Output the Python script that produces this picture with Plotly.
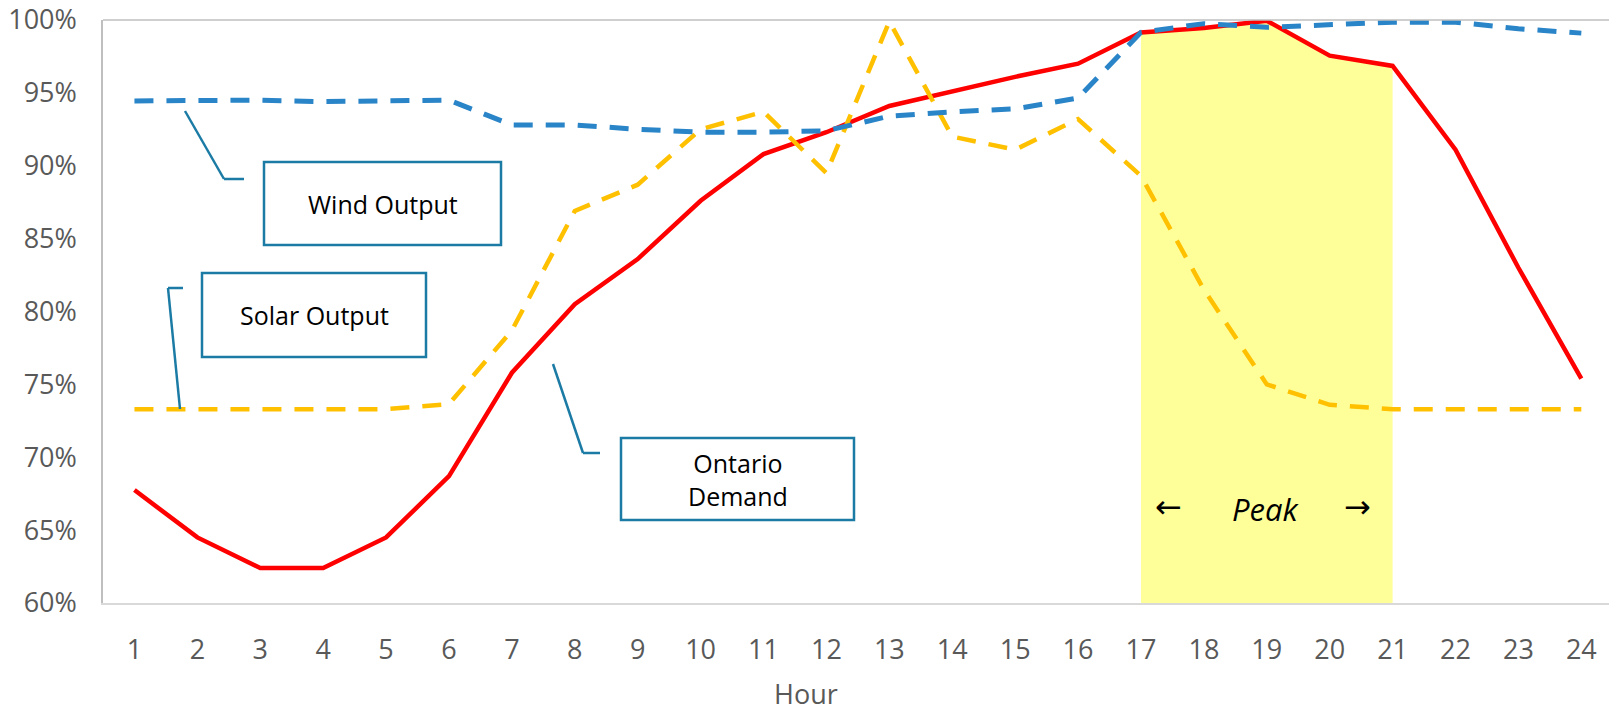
import plotly.graph_objects as go

hours = list(range(1, 25))
demand = [67.75, 64.5, 62.4, 62.4, 64.5, 68.7, 75.8, 80.5, 83.6, 87.6, 90.8, 92.3,
          94.1, 95.1, 96.1, 97.0, 99.15, 99.45, 99.95, 97.55, 96.85, 91.1, 83.0, 75.4]
wind = [94.45, 94.5, 94.5, 94.4, 94.45, 94.5, 92.8, 92.8, 92.5, 92.3, 92.3, 92.4,
        93.4, 93.7, 93.9, 94.65, 99.15, 99.75, 99.5, 99.7, 99.85, 99.85, 99.4, 99.1]
solar = [73.3, 73.3, 73.3, 73.3, 73.3, 73.65, 78.7, 86.9, 88.7, 92.5, 93.7, 89.5,
         99.9, 92.0, 91.1, 93.2, 89.3, 81.5, 75.0, 73.6, 73.3, 73.3, 73.3, 73.3]
peak_hours = [17, 18, 19, 20, 21]
peak_demand = [demand[h - 1] for h in peak_hours]

W, H = 1609, 714
L, R, T, B = 103, 0, 20, 111
PW, PH = W - L - R, H - T - B


def px(x):
    return (x - L) / PW


def py(y):
    return 1 - (y - T) / PH


BOX = "#1B7BA5"
FONT = "Open Sans"

fig = go.Figure()
fig.add_trace(go.Scatter(x=peak_hours, y=peak_demand, fill="tozeroy", fillcolor="#FFFF99",
                         line=dict(width=0), mode="lines", hoverinfo="skip", showlegend=False))
fig.add_trace(go.Scatter(x=hours, y=demand, mode="lines", name="Ontario Demand",
                         line=dict(color="#FF0000", width=4.5)))
fig.add_trace(go.Scatter(x=hours, y=solar, mode="lines", name="Solar Output",
                         line=dict(color="#FFC000", width=4.5, dash="19px,13px")))
fig.add_trace(go.Scatter(x=hours, y=wind, mode="lines", name="Wind Output",
                         line=dict(color="#2984C8", width=5, dash="19px,13px")))

shapes = []
# top border line
shapes.append(dict(type="line", xref="paper", yref="paper", x0=0, x1=1, y0=1, y1=1,
                   line=dict(color="#BFBFBF", width=1.5)))

boxes = [
    (264, 162, 501, 245, "Wind Output"),
    (202, 273, 426, 357, "Solar Output"),
    (621, 438, 854, 520, "Ontario<br>Demand"),
]
annotations = []
for x0, y0, x1, y1, txt in boxes:
    shapes.append(dict(type="rect", xref="paper", yref="paper", x0=px(x0), x1=px(x1),
                       y0=py(y1), y1=py(y0), line=dict(color=BOX, width=2.5),
                       fillcolor="rgba(255,255,255,0)"))
    annotations.append(dict(xref="paper", yref="paper", x=px((x0 + x1) / 2), y=py((y0 + y1) / 2),
                            text=txt, showarrow=False, xanchor="center", yanchor="middle",
                            font=dict(family=FONT, size=25, color="#000000")))

callouts = [
    [(185, 111), (224, 179), (244, 179)],
    [(180, 409), (168, 288), (183, 288)],
    [(553, 364), (583, 453), (600, 453)],
]
for pts in callouts:
    for (xa, ya), (xb, yb) in zip(pts[:-1], pts[1:]):
        shapes.append(dict(type="line", xref="paper", yref="paper", x0=px(xa), y0=py(ya),
                           x1=px(xb), y1=py(yb), line=dict(color=BOX, width=2.5)))

annotations.append(dict(xref="paper", yref="paper", x=px(1266), y=py(509), text="<i>Peak</i>",
                        showarrow=False, xanchor="center", yanchor="middle",
                        font=dict(family=FONT, size=31, color="#000000")))
annotations.append(dict(xref="paper", yref="paper", x=px(1168), y=py(507), text="←",
                        showarrow=False, xanchor="center", yanchor="middle",
                        font=dict(family="DejaVu Sans", size=32, color="#000000")))
annotations.append(dict(xref="paper", yref="paper", x=px(1357), y=py(507), text="→",
                        showarrow=False, xanchor="center", yanchor="middle",
                        font=dict(family="DejaVu Sans", size=32, color="#000000")))
annotations.append(dict(xref="paper", yref="paper", x=px(806), y=py(714), text="Hour",
                        showarrow=False, xanchor="center", yanchor="bottom",
                        font=dict(family=FONT, size=27, color="#595959")))

fig.update_layout(
    width=W, height=H,
    margin=dict(l=L, r=R, t=T, b=B, pad=0),
    paper_bgcolor="white", plot_bgcolor="white",
    showlegend=False,
    shapes=shapes,
    annotations=annotations,
    font=dict(family=FONT, color="#595959"),
)
fig.update_xaxes(range=[0.5, 24.44], tickmode="array", tickvals=hours, ticktext=[str(h) for h in hours],
                 showgrid=False, zeroline=False, showline=True, linecolor="#D9D9D9", linewidth=2,
                 ticks="", ticklabelstandoff=22, automargin=False,
                 tickfont=dict(size=27, color="#595959"))
fig.update_yaxes(range=[60, 100], dtick=5, ticksuffix="%", showgrid=False, zeroline=False,
                 showline=True, linecolor="#BFBFBF", linewidth=1.5, ticks="", automargin=False,
                 ticklabelstandoff=19, tickfont=dict(size=27, color="#595959"))

fig.write_html("out.html", config={"displayModeBar": False},
               post_script="document.body.style.margin='0px';")
